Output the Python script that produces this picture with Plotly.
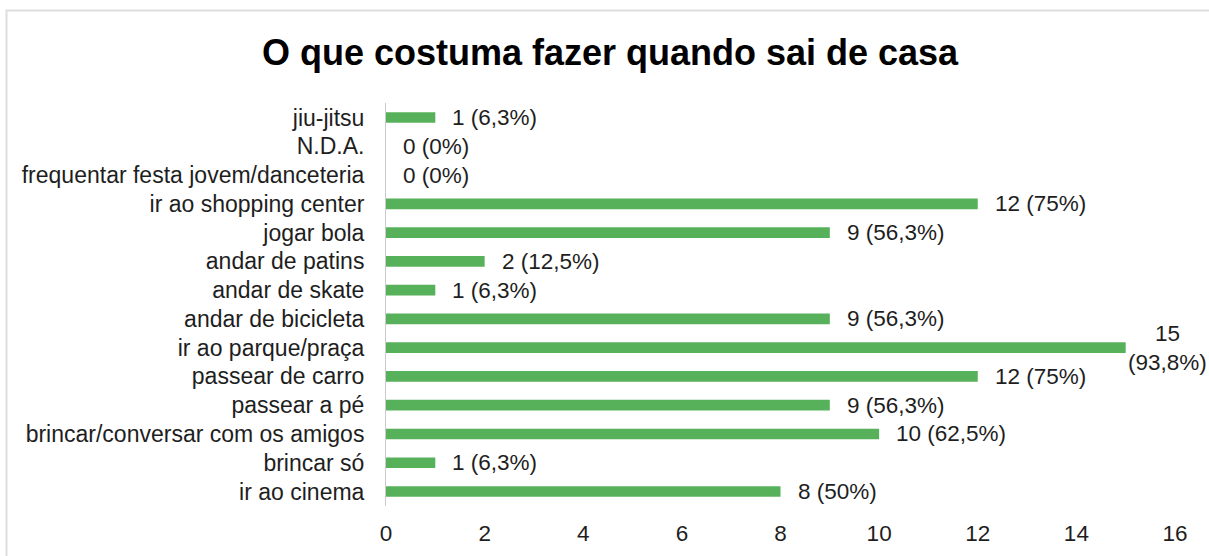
import plotly.graph_objects as go

categories = [
    "jiu-jitsu",
    "N.D.A.",
    "frequentar festa jovem/danceteria",
    "ir ao shopping center",
    "jogar bola",
    "andar de patins",
    "andar de skate",
    "andar de bicicleta",
    "ir ao parque/praça",
    "passear de carro",
    "passear a pé",
    "brincar/conversar com os amigos",
    "brincar só",
    "ir ao cinema",
]
values = [1, 0, 0, 12, 9, 2, 1, 9, 15, 12, 9, 10, 1, 8]
value_labels = [
    "1 (6,3%)", "0 (0%)", "0 (0%)", "12 (75%)", "9 (56,3%)", "2 (12,5%)",
    "1 (6,3%)", "9 (56,3%)", "15<br>(93,8%)", "12 (75%)", "9 (56,3%)",
    "10 (62,5%)", "1 (6,3%)", "8 (50%)",
]
x_ticks = [0, 2, 4, 6, 8, 10, 12, 14, 16]
title_text = "O que costuma fazer quando sai de casa"

FONT = "Liberation Sans, Arial, sans-serif"
W, H = 1209, 556
ML, MR, MT, MB = 386, 34, 103, 50
PW, PH = W - ML - MR, H - MT - MB

fig = go.Figure(
    go.Bar(
        x=values,
        y=categories,
        orientation="h",
        marker=dict(color="#57b05a", line=dict(width=0)),
        width=0.37,
        hoverinfo="skip",
    )
)

for v, c, lab in zip(values, categories, value_labels):
    wrapped = "<br>" in lab
    fig.add_annotation(
        x=v, y=c, xref="x", yref="y",
        text=lab, showarrow=False,
        xanchor="left", yanchor="middle",
        xshift=0 if wrapped else 15,
        align="center",
        font=dict(family=FONT, size=22.5, color="#1e1e1e"),
    )

# outer light border of the chart card
fig.add_shape(
    type="rect", xref="paper", yref="paper",
    x0=(6.5 - ML) / PW, x1=1.2,
    y0=-0.3, y1=(MT + PH - 10.5) / PH,
    line=dict(color="#dedede", width=2),
    fillcolor="rgba(0,0,0,0)", layer="below",
)

fig.update_layout(
    width=W, height=H,
    margin=dict(l=ML, r=MR, t=MT, b=MB, pad=0, autoexpand=False),
    paper_bgcolor="white", plot_bgcolor="white",
    showlegend=False,
    bargap=0.6,
    title=dict(
        text="<b>" + title_text + "</b>",
        x=610 / W, xref="container", xanchor="center",
        y=1 - 52 / H, yref="container", yanchor="middle",
        font=dict(family=FONT, size=36, color="#000000"),
    ),
    font=dict(family=FONT, size=22, color="#1e1e1e"),
    xaxis=dict(
        range=[0, 16], tickvals=x_ticks, ticktext=[str(t) for t in x_ticks],
        showgrid=False, zeroline=False, showline=False, ticks="",
        ticklabelstandoff=11, automargin=False,
        tickfont=dict(family=FONT, size=22.5, color="#1e1e1e"),
        fixedrange=True,
    ),
    yaxis=dict(
        categoryorder="array", categoryarray=categories,
        autorange="reversed", automargin=False,
        showgrid=False, zeroline=False,
        showline=True, linecolor="#cccccc", linewidth=1,
        ticks="", ticklabelstandoff=16,
        tickfont=dict(family=FONT, size=23, color="#1e1e1e"),
        fixedrange=True,
    ),
)

fig.write_html(
    "out.html",
    config={"displayModeBar": False},
    post_script="document.body.style.margin='0';document.body.style.overflow='hidden';",
)
